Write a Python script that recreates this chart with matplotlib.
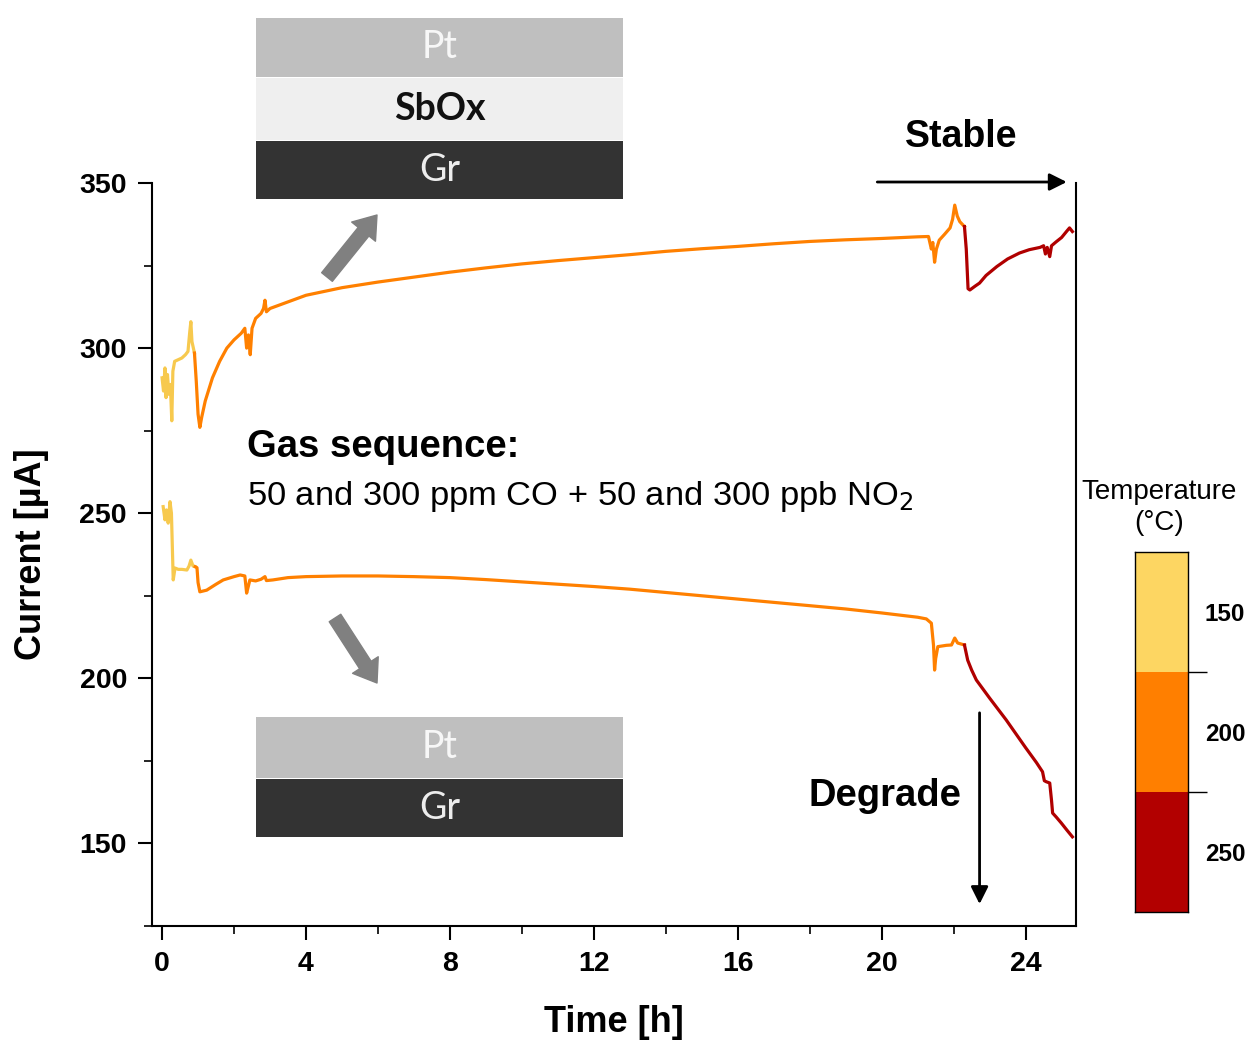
import matplotlib
matplotlib.use("Agg")
import matplotlib.pyplot as plt
from matplotlib.patches import Rectangle
from matplotlib.ticker import MultipleLocator

plt.rcParams['font.family'] = ['Liberation Sans', 'DejaVu Sans']

# Pt/SbOx/Gr Kurve (oben), je Temperaturabschnitt
t_sbox_150 = [0.0, 0.04, 0.08, 0.11, 0.15, 0.19, 0.23, 0.27, 0.3, 0.35, 0.45, 0.55, 0.65, 0.72, 0.77, 0.8, 0.83, 0.87, 0.9]
i_sbox_150 = [291, 287, 294, 285, 292, 286, 289, 278, 293, 296, 296.5, 297, 298, 299, 305, 308, 302, 300, 298.5]
t_sbox_200 = [0.9, 0.95, 1.0, 1.05, 1.1, 1.2, 1.4, 1.6, 1.8, 2.0, 2.2, 2.3, 2.35, 2.4, 2.45, 2.5, 2.6, 2.75,
              2.82, 2.86, 2.9, 3.0, 3.5, 4.0, 5, 6, 7, 8, 9, 10, 11, 12, 13, 14, 15, 16, 17, 18, 19, 20, 21,
              21.3, 21.38, 21.42, 21.47, 21.52, 21.6, 21.75, 21.9, 21.97, 22.03, 22.1, 22.17, 22.3]
i_sbox_200 = [298.5, 290, 280, 276, 279, 284, 291, 296, 300, 302.5, 304.5, 306, 300, 304, 298, 306, 309, 310.5,
              312, 314.5, 311, 312, 314, 316, 318.3, 320, 321.5, 323, 324.3, 325.5, 326.5, 327.4, 328.3, 329.3,
              330.1, 330.8, 331.6, 332.3, 332.8, 333.2, 333.7, 333.8, 330, 332, 326, 330, 332.7, 334.5, 336.4,
              339, 343.3, 340, 338.3, 336.8]
t_sbox_250 = [22.3, 22.35, 22.4, 22.45, 22.6, 22.72, 22.9, 23.2, 23.5, 23.83, 24.1, 24.4, 24.5, 24.55, 24.6,
              24.67, 24.72, 24.85, 25.0, 25.15, 25.22, 25.3]
i_sbox_250 = [336.8, 330, 318, 317.6, 318.8, 319.7, 322, 324.7, 327, 328.8, 329.8, 330.5, 331, 328.5, 330.5,
              327.7, 331, 332.2, 333.5, 335.5, 336.4, 335.3]

# Pt/Gr Kurve (unten)
t_gr_150 = [0.03, 0.08, 0.12, 0.17, 0.22, 0.26, 0.31, 0.36, 0.45, 0.55, 0.69, 0.75, 0.8, 0.86, 0.92]
i_gr_150 = [252, 248, 251, 247, 253.5, 250, 229.8, 233.4, 233, 233, 232.8, 234, 235.8, 234, 233.8]
t_gr_200 = [0.92, 0.97, 1.0, 1.05, 1.24, 1.5, 1.7, 2.0, 2.17, 2.3, 2.35, 2.4, 2.44, 2.6, 2.75, 2.86, 2.9, 3.08,
            3.5, 4.0, 5, 6, 7, 8, 9, 10, 11, 12, 13, 14, 15, 16, 17, 18, 19, 20, 21, 21.24, 21.38, 21.44,
            21.47, 21.5, 21.56, 21.8, 21.94, 22.03, 22.11, 22.3]
i_gr_200 = [233.8, 233.5, 229, 226.2, 226.7, 228.5, 229.8, 230.8, 231.3, 231, 225.8, 228, 229.8, 229.5, 230,
            230.8, 229.6, 229.8, 230.5, 230.8, 231, 231, 230.8, 230.5, 229.9, 229.2, 228.5, 227.8, 227, 226,
            225, 224, 223, 222, 221, 219.8, 218.5, 218, 216.7, 210, 202.5, 206, 209.6, 210, 210.1, 212.2,
            210.7, 210.1]
t_gr_250 = [22.3, 22.39, 22.5, 22.63, 23.0, 23.46, 24.0, 24.3, 24.47, 24.52, 24.57, 24.67, 24.72, 24.75,
            24.85, 24.99, 25.15, 25.3]
i_gr_250 = [210.1, 205.5, 202.5, 199.5, 194, 187.4, 179, 174.5, 171.7, 169, 168.7, 168.3, 163, 159.2,
            158, 156.2, 154, 152]

temps = [150, 200, 250]
line_colors = ['#F7C94E', '#FF8000', '#B00000']
bar_colors = ['#FDD662', '#FF7F00', '#B20000']

W, H = 1245, 1045
fig = plt.figure(figsize=(W / 100, H / 100), dpi=100)
ax = fig.add_axes([152 / W, 1 - 926 / H, (1076 - 152) / W, (926 - 183) / H])

for t, i, c in [(t_sbox_150, i_sbox_150, line_colors[0]), (t_sbox_200, i_sbox_200, line_colors[1]),
                (t_sbox_250, i_sbox_250, line_colors[2]), (t_gr_150, i_gr_150, line_colors[0]),
                (t_gr_200, i_gr_200, line_colors[1]), (t_gr_250, i_gr_250, line_colors[2])]:
    ax.plot(t, i, color=c, lw=2.3, solid_joinstyle='round')

ax.set_xlim(-0.28, 25.4)
ax.set_ylim(125, 350)
ax.spines['top'].set_visible(False)
for s in ['left', 'bottom', 'right']:
    ax.spines[s].set_linewidth(1.5)
ax.xaxis.set_major_locator(MultipleLocator(4))
ax.xaxis.set_minor_locator(MultipleLocator(2))
ax.yaxis.set_major_locator(MultipleLocator(50))
ax.yaxis.set_minor_locator(MultipleLocator(25))
ax.tick_params(which='major', direction='out', length=10, width=1.5, labelsize=20.5, pad=8)
ax.tick_params(which='minor', direction='out', length=6, width=1.2)
for lab in ax.get_xticklabels() + ax.get_yticklabels():
    lab.set_fontweight('bold')
ax.set_xlabel('Time [h]', fontsize=26, fontweight='bold', labelpad=20)
ax.set_ylabel('Current [µA]', fontsize=26, fontweight='bold', labelpad=22)

# Beschriftungen
ax.text(2.36, 270.0, 'Gas sequence:', fontsize=27.5, fontweight='bold', ha='left', va='center')
ax.text(2.36, 255.0, '50 and 300 ppm CO + 50 and 300 ppb NO$_2$', fontsize=24.8, ha='left', va='center')
ax.text(22.2, 364.0, 'Stable', fontsize=27, fontweight='bold', ha='center', va='center', clip_on=False)
ax.annotate('', xy=(25.22, 350.3), xytext=(19.8, 350.3), annotation_clip=False,
            arrowprops=dict(arrowstyle='-|>', color='black', lw=2.0, mutation_scale=26))
ax.text(20.08, 164.5, 'Degrade', fontsize=27.5, fontweight='bold', ha='center', va='center')
ax.annotate('', xy=(22.72, 130.8), xytext=(22.72, 190.4),
            arrowprops=dict(arrowstyle='-|>', color='black', lw=2.0, mutation_scale=26))


def fig_box(x0, y0, x1, y1, face, label, tcolor, weight='normal'):
    fig.add_artist(Rectangle((x0 / W, 1 - y1 / H), (x1 - x0) / W, (y1 - y0) / H,
                             transform=fig.transFigure, facecolor=face, edgecolor='none'))
    fig.text((x0 + x1) / 2 / W, 1 - (y0 + y1) / 2 / H, label, color=tcolor, fontsize=27,
             fontweight=weight, ha='center', va='center', family=['Lato', 'DejaVu Sans'])


# Schichtaufbau oben
fig_box(256, 18, 623, 77, '#BFBFBF', 'Pt', '#F7F7F7')
fig_box(256, 78, 623, 140, '#EFEFEF', 'SbOx', '#111111', 'bold')
fig_box(256, 141, 623, 199, '#333333', 'Gr', '#EDEDED')
# Schichtaufbau unten
fig_box(256, 717, 623, 778, '#BFBFBF', 'Pt', '#F7F7F7')
fig_box(256, 779, 623, 837, '#333333', 'Gr', '#EDEDED')

gray = dict(arrowstyle='simple,head_length=0.7,head_width=1.0,tail_width=0.45', color='#808080',
            mutation_scale=22, shrinkA=0, shrinkB=0)
ax.annotate('', xy=(377, H - 215), xytext=(327, H - 277), xycoords='figure pixels', arrowprops=gray)
ax.annotate('', xy=(377, H - 683), xytext=(335, H - 618), xycoords='figure pixels', arrowprops=gray)

# Temperatur-Farbskala
cax = fig.add_axes([1135 / W, 1 - 912 / H, 53 / W, 360 / H])
for k, c in enumerate(bar_colors):
    cax.bar(0.5, 1, bottom=k, width=1, color=c, edgecolor='none')
cax.set_xlim(0, 1)
cax.set_ylim(len(temps), 0)
cax.set_xticks([])
cax.yaxis.tick_right()
cax.set_yticks([k + 0.5 for k in range(len(temps))])
cax.set_yticklabels([str(t) for t in temps], fontsize=17.5, fontweight='bold')
cax.set_yticks([1, 2], minor=True)
cax.tick_params(axis='y', which='major', length=0, pad=12)
cax.tick_params(axis='y', which='minor', length=14, width=1.0, direction='out')
for s in cax.spines.values():
    s.set_linewidth(1.0)
cax.set_title('Temperature\n(°C)', fontsize=20, pad=16, x=0.45, linespacing=1.25)

fig.savefig('out.png', dpi=100)
